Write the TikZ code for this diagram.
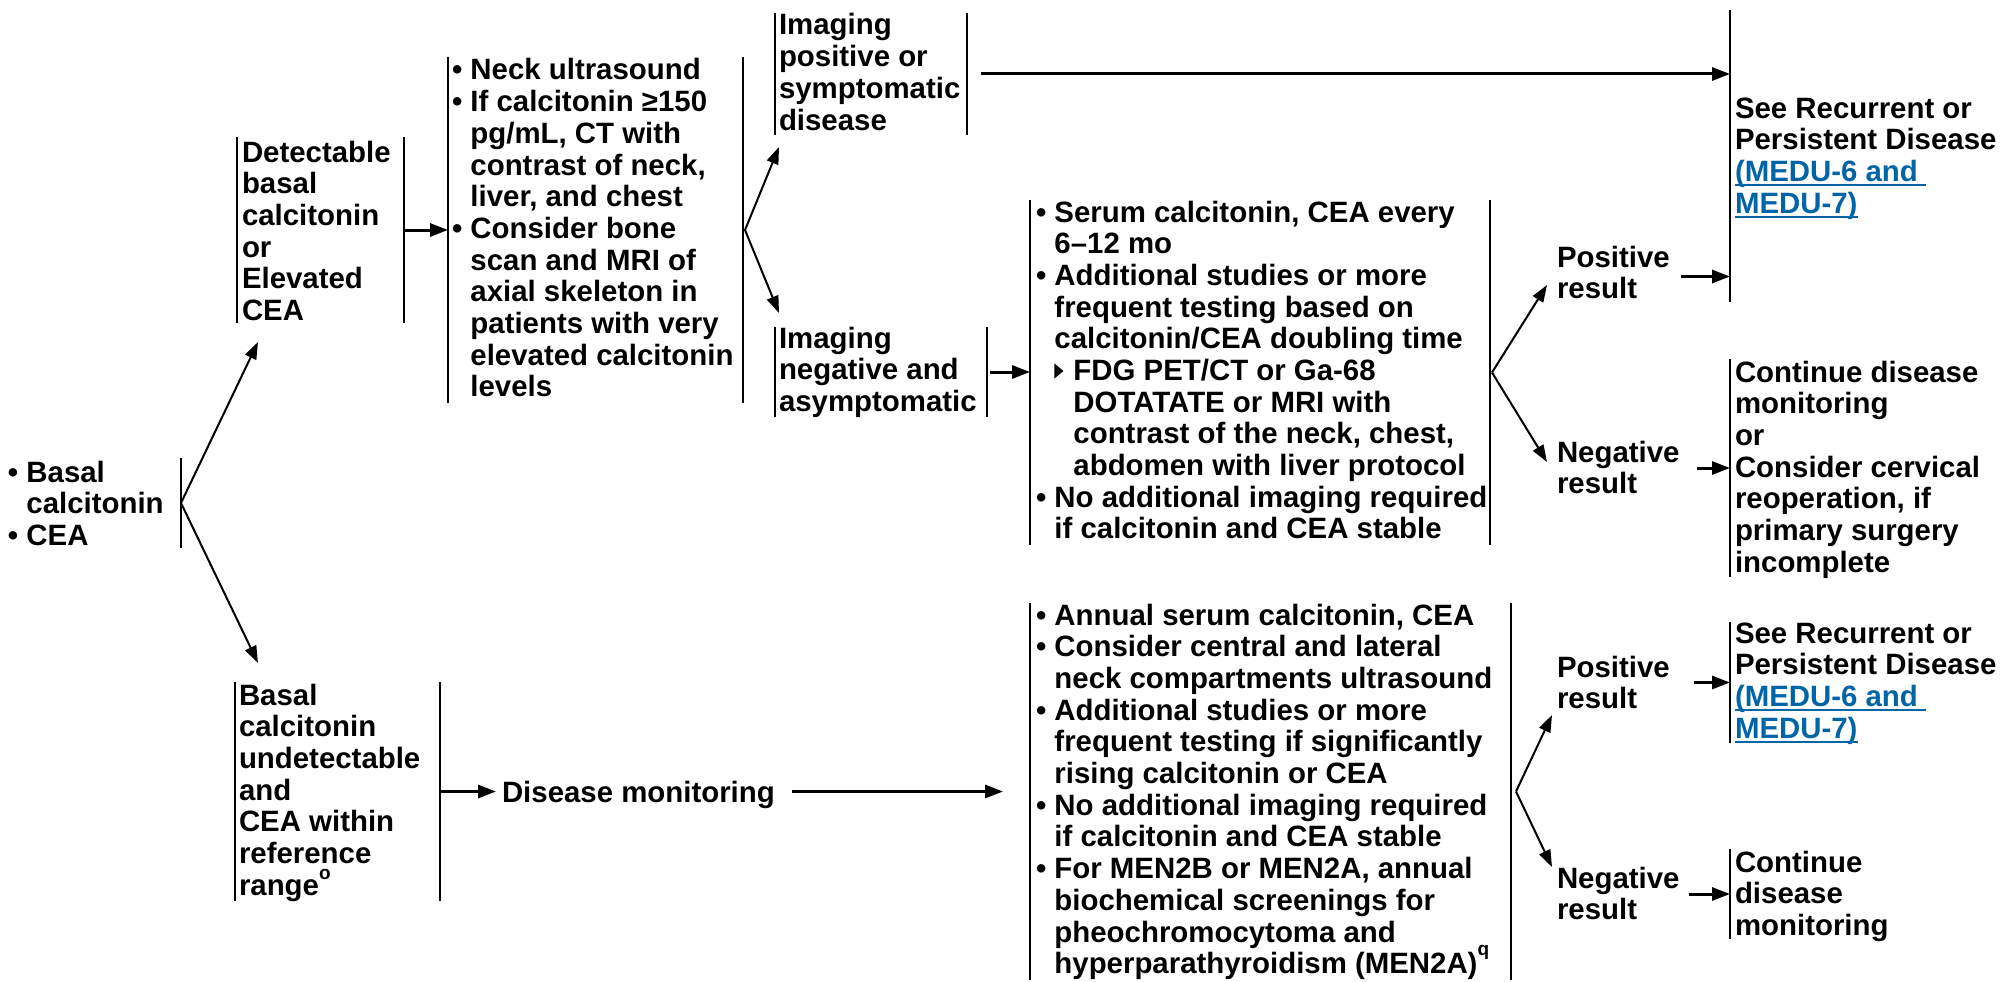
\documentclass[tikz,border=0pt]{standalone}
\usepackage{fontspec}
\setmainfont{Liberation Sans}
\usetikzlibrary{arrows.meta}
\definecolor{linkblue}{RGB}{0,101,166}

% multi-line text block whose baseline is the first line
\newcommand\lines[1]{\begin{tabular}[t]{@{}l@{}}#1\end{tabular}}
% indent of a continuation line under a bullet
\newcommand\contind{\hphantom{•\ }}
% small right-pointing triangle for second-level items
\newcommand\subbullet{\tikz[baseline=0pt]\fill (0pt,2pt)--(0pt,17pt)--(9pt,9.5pt)--cycle;}
\newcommand\subind{\hspace*{19pt}}
% raised footnote letter that does not change the line height
\newcommand\suptext[2]{\smash{\raisebox{#1}{\fontsize{19}{19}\selectfont #2}}}
\newcommand\linktext[1]{{\color{linkblue}\setbox0\hbox{#1}\rlap{\rule[-4.5pt]{\wd0}{2pt}}\box0}}

\begin{document}
\begin{tikzpicture}[x=1pt,y=-1pt,
  every node/.style={inner sep=0pt,outer sep=0pt},
  txt/.style={anchor=base west,font=\fontsize{29.4}{31.7}\selectfont\bfseries},
  frame/.style={draw=none},
  bar/.style={line width=2pt},
  arr/.style={line width=3pt,-{Triangle[length=18pt,width=13pt]}},
  fork/.style={line width=2pt,-{Triangle[length=17pt,width=12pt]}}]
\useasboundingbox (0,0) rectangle (2003,982);

% ---------- frames (areas between the vertical rules) ----------
\node[frame,minimum width=181pt,minimum height=90pt]  (startF) at (90.5,503) {};
\node[frame,minimum width=167pt,minimum height=186pt] (det)    at (320.5,230) {};
\node[frame,minimum width=295pt,minimum height=346pt] (neck)   at (595.5,230) {};
\node[frame,minimum width=192pt,minimum height=122pt] (ipos)   at (871,74) {};
\node[frame,minimum width=212pt,minimum height=90pt]  (ineg)   at (881,372) {};
\node[frame,minimum width=460pt,minimum height=345pt] (serum)  at (1260,372.5) {};
\node[frame,minimum width=273pt,minimum height=292pt] (rec1)   at (1866.5,156) {};
\node[frame,minimum width=273pt,minimum height=218pt] (cont1)  at (1866.5,468) {};
\node[frame,minimum width=205pt,minimum height=219pt] (undet)  at (337.5,791.5) {};
\node[frame,minimum width=481pt,minimum height=377pt] (annual) at (1270.5,791.5) {};
\node[frame,minimum width=273pt,minimum height=121pt] (rec2)   at (1866.5,682.5) {};
\node[frame,minimum width=273pt,minimum height=90pt]  (cont2)  at (1866.5,894) {};

\foreach \n in {det,neck,ipos,ineg,serum,undet,annual}
  \draw[bar] (\n.north west) -- (\n.south west) (\n.north east) -- (\n.south east);
\foreach \n in {rec1,cont1,rec2,cont2}
  \draw[bar] (\n.north west) -- (\n.south west);
\draw[bar] (startF.north east) -- (startF.south east);

% ---------- texts ----------
\node[txt] (startT) at (8,482) {\lines{• Basal\\ \contind calcitonin\\ • CEA}};
\node[txt] (detT) at (242,162) {\lines{Detectable\\ basal\\ calcitonin\\ or\\ Elevated\\ CEA}};
\node[txt] (neckT) at (452,80) {\lines{• Neck ultrasound\\
  • If calcitonin ≥150\\ \contind pg/mL, CT with\\ \contind contrast of neck,\\ \contind liver, and chest\\
  • Consider bone\\ \contind scan and MRI of\\ \contind axial skeleton in\\ \contind patients with very\\ \contind elevated calcitonin\\ \contind levels}};
\node[txt] (iposT) at (779,35) {\lines{Imaging\\ positive or\\ symptomatic\\ disease}};
\node[txt] (inegT) at (779,348) {\lines{Imaging\\ negative and\\ asymptomatic}};
\node[txt] (serumT) at (1036,222) {\lines{• Serum calcitonin, CEA every\\ \contind 6–12 mo\\
  • Additional studies or more\\ \contind frequent testing based on\\ \contind calcitonin/CEA doubling time\\
  \contind\subbullet\hspace{10pt}FDG PET/CT or Ga-68\\ \contind\subind DOTATATE or MRI with\\
  \contind\subind contrast of the neck, chest,\\ \contind\subind abdomen with liver protocol\\
  • No additional imaging required\\ \contind if calcitonin and CEA stable}};
\node[txt] (rec1T) at (1735,118) {\lines{See Recurrent or\\ Persistent Disease\\ \linktext{(MEDU-6 and\ }\\ \linktext{MEDU-7)}}};
\node[txt] (pos1) at (1557,267) {\lines{Positive\\ result}};
\node[txt] (neg1) at (1557,462) {\lines{Negative\\ result}};
\node[txt] (cont1T) at (1735,382) {\lines{Continue disease\\ monitoring\\ or\\ Consider cervical\\ reoperation, if\\ primary surgery\\ incomplete}};
\node[txt] (undetT) at (239,705) {\lines{Basal\\ calcitonin\\ undetectable\\ and\\ CEA within\\ reference\\ range\suptext{16pt}{o}}};
\node[txt] (dm) at (502,802) {\lines{Disease monitoring}};
\node[txt] (annualT) at (1036,625) {\lines{• Annual serum calcitonin, CEA\\
  • Consider central and lateral\\ \contind neck compartments ultrasound\\
  • Additional studies or more\\ \contind frequent testing if significantly\\ \contind rising calcitonin or CEA\\
  • No additional imaging required\\ \contind if calcitonin and CEA stable\\
  • For MEN2B or MEN2A, annual\\ \contind biochemical screenings for\\ \contind pheochromocytoma and\\ \contind hyperparathyroidism (MEN2A)\suptext{18pt}{q}}};
\node[txt] (pos2) at (1557,677) {\lines{Positive\\ result}};
\node[txt] (neg2) at (1557,888) {\lines{Negative\\ result}};
\node[txt] (rec2T) at (1735,643) {\lines{See Recurrent or\\ Persistent Disease\\ \linktext{(MEDU-6 and\ }\\ \linktext{MEDU-7)}}};
\node[txt] (cont2T) at (1735,872) {\lines{Continue\\ disease\\ monitoring}};

% ---------- fork end points ----------
\coordinate (detTip)   at (258,342);
\coordinate (undetTip) at (258,663);
\coordinate (iposTip)  at (779,147);
\coordinate (inegTip)  at (779,313);
\coordinate (pos1Tip)  at (1547,285);
\coordinate (neg1Tip)  at (1547,462);
\coordinate (pos2Tip)  at (1552,715);
\coordinate (neg2Tip)  at (1552,867);

% ---------- connectors ----------
\draw[fork] (startF.east) -- (detTip);
\draw[fork] (startF.east) -- (undetTip);
\draw[arr] (det.east) -- (neck.west);
\draw[fork] ([xshift=2pt]neck.east) -- (iposTip);
\draw[fork] ([xshift=2pt]neck.east) -- (inegTip);
\draw[arr] ([xshift=14pt]ipos.east) -- (ipos.east -| rec1.west);
\draw[arr] ([xshift=3pt]ineg.east) -- (ineg.east -| serum.west);
\draw[fork] ([xshift=2pt]serum.east) -- (pos1Tip);
\draw[fork] ([xshift=2pt]serum.east) -- (neg1Tip);
\draw[arr] ([xshift=11pt]pos1.east) -- (pos1.east -| rec1.west);
\draw[arr] ([xshift=17pt]neg1.east |- cont1.west) -- (cont1.west);
\draw[arr] (undet.east) -- ([xshift=-6pt]dm.west |- undet.east);
\draw[arr] ([xshift=17pt]dm.east |- annual.west) -- ([xshift=-27pt]annual.west);
\draw[fork] ([xshift=5pt]annual.east) -- (pos2Tip);
\draw[fork] ([xshift=5pt]annual.east) -- (neg2Tip);
\draw[arr] ([xshift=24pt]pos2.east |- rec2.west) -- (rec2.west);
\draw[arr] ([xshift=9pt]neg2.east |- cont2.west) -- (cont2.west);
\end{tikzpicture}
\end{document}
